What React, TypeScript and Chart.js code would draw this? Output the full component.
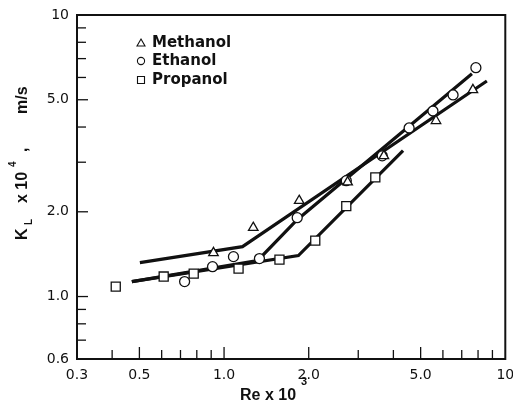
import React, { useEffect, useRef } from 'react';
import { Chart, registerables } from 'chart.js';

Chart.register(...registerables);

// Measured points (Re x 10^3, K_L x 10^4 m/s)
const methanolRe = [0.917, 1.27, 1.85, 2.75, 3.7, 5.67, 7.67];
const methanolKL = [1.43, 1.756, 2.19, 2.55, 3.16, 4.21, 5.42];
const ethanolRe = [0.724, 0.91, 1.08, 1.336, 1.82, 2.72, 3.65, 4.55, 5.53, 6.52, 7.86];
const ethanolKL = [1.13, 1.277, 1.386, 1.364, 1.906, 2.58, 3.16, 3.97, 4.56, 5.2, 6.5];
const propanolRe = [0.412, 0.61, 0.78, 1.126, 1.574, 2.11, 2.72, 3.45];
const propanolKL = [1.085, 1.178, 1.206, 1.257, 1.353, 1.58, 2.094, 2.65];

// Fitted (correlation) lines
const methanolFitRe = [0.502, 1.163, 8.6];
const methanolFitKL = [1.32, 1.504, 5.83];
const ethanolFitRe = [0.47, 1.315, 1.82, 7.61];
const ethanolFitKL = [1.13, 1.341, 1.875, 6.18];
const propanolFitRe = [0.47, 1.838, 4.33];
const propanolFitKL = [1.13, 1.398, 3.3];

// Axis ticks
const xMajorTicks = [0.3, 0.5, 1, 2, 5, 10];
const xTickLabels = ['0.3', '0.5', '1.0', '2.0', '5.0', '10'];
const xMinorTicks = [0.4, 0.6, 0.7, 0.8, 0.9, 3, 4, 6, 7, 8, 9];
const yMajorTicks = [0.6, 1, 2, 5, 10];
const yTickLabels = ['0.6', '1.0', '2.0', '5.0', '10'];
const yMinorTicks = [0.7, 0.8, 0.9, 3, 4, 6, 7, 8, 9];

const seriesNames = ['Methanol', 'Ethanol', 'Propanol'];

const INK = '#111';

const pts = (xs: number[], ys: number[]) => xs.map((x, i) => ({ x, y: ys[i] }));

const decorPlugin = {
  id: 'decor',
  afterDatasetsDraw(chart: any) {
    const ctx = chart.ctx as CanvasRenderingContext2D;
    const { left, right, top, bottom } = chart.chartArea;
    const xs = chart.scales.x;
    const ys = chart.scales.y;
    ctx.save();
    ctx.strokeStyle = INK;
    ctx.fillStyle = INK;
    // frame
    ctx.lineWidth = 2;
    ctx.strokeRect(left, top, right - left, bottom - top);
    // inward ticks
    ctx.lineWidth = 1.3;
    const xt = (v: number, len: number) => {
      const p = xs.getPixelForValue(v);
      ctx.beginPath();
      ctx.moveTo(p, bottom);
      ctx.lineTo(p, bottom - len);
      ctx.stroke();
    };
    const yt = (v: number, len: number) => {
      const p = ys.getPixelForValue(v);
      ctx.beginPath();
      ctx.moveTo(left, p);
      ctx.lineTo(left + len, p);
      ctx.stroke();
    };
    xMajorTicks.slice(1, -1).forEach((v) => xt(v, 12));
    xMinorTicks.forEach((v) => xt(v, 9));
    yMajorTicks.slice(1, -1).forEach((v) => yt(v, 11));
    yMinorTicks.forEach((v) => yt(v, 9));

    // x title
    ctx.textBaseline = 'alphabetic';
    ctx.textAlign = 'left';
    ctx.font = 'bold 16px "Liberation Sans"';
    ctx.fillText('Re x 10', 240, 400);
    ctx.font = 'bold 11px "Liberation Sans"';
    ctx.fillText('3', 301, 385);

    // y title (rotated)
    ctx.save();
    ctx.translate(27, 240);
    ctx.rotate(-Math.PI / 2);
    ctx.font = 'bold 16px "Liberation Sans"';
    ctx.fillText('K', 0, 0);
    ctx.font = 'bold 10px "Liberation Sans"';
    ctx.fillText('L', 15, 5);
    ctx.font = 'bold 16px "Liberation Sans"';
    ctx.fillText('x 10', 37, 0);
    ctx.font = 'bold 10px "Liberation Sans"';
    ctx.fillText('4', 73, -11);
    ctx.font = 'bold 16px "Liberation Sans"';
    ctx.fillText(',', 88, 0);
    ctx.fillText('m/s', 126, 0);
    ctx.restore();

    // legend
    const lx = 141;
    const rows = [43, 61, 80];
    ctx.lineWidth = 1.1;
    ctx.fillStyle = '#fff';
    // triangle
    ctx.beginPath();
    ctx.moveTo(lx, rows[0] - 4);
    ctx.lineTo(lx + 4, rows[0] + 3);
    ctx.lineTo(lx - 4, rows[0] + 3);
    ctx.closePath();
    ctx.fill();
    ctx.stroke();
    // circle
    ctx.beginPath();
    ctx.arc(lx, rows[1], 3.6, 0, Math.PI * 2);
    ctx.fill();
    ctx.stroke();
    // square
    ctx.beginPath();
    ctx.rect(lx - 3.5, rows[2] - 3.5, 7, 7);
    ctx.fill();
    ctx.stroke();
    ctx.fillStyle = INK;
    ctx.font = 'bold 15px "DejaVu Sans"';
    ctx.textBaseline = 'middle';
    seriesNames.forEach((n, i) => ctx.fillText(n, 152, rows[i] + 0.5));
    ctx.restore();
  },
};

export default function App() {
  const ref = useRef<HTMLCanvasElement | null>(null);
  useEffect(() => {
    if (!ref.current) return;
    const markerBase = {
      showLine: false,
      backgroundColor: '#fff',
      borderColor: INK,
      borderWidth: 1.3,
      order: 1,
    };
    const lineBase = {
      showLine: true,
      pointRadius: 0,
      borderColor: INK,
      borderWidth: 3.2,
      tension: 0,
      fill: false,
      order: 2,
    };
    const chart = new Chart(ref.current, {
      type: 'scatter',
      data: {
        datasets: [
          { ...lineBase, label: 'Methanol fit', data: pts(methanolFitRe, methanolFitKL) },
          { ...lineBase, label: 'Ethanol fit', data: pts(ethanolFitRe, ethanolFitKL) },
          { ...lineBase, label: 'Propanol fit', data: pts(propanolFitRe, propanolFitKL) },
          { ...markerBase, label: 'Methanol', pointStyle: 'triangle', pointRadius: 5.5, data: pts(methanolRe, methanolKL) },
          { ...markerBase, label: 'Ethanol', pointStyle: 'circle', pointRadius: 5, data: pts(ethanolRe, ethanolKL) },
          { ...markerBase, label: 'Propanol', pointStyle: 'rect', pointRadius: 6.4, data: pts(propanolRe, propanolKL) },
        ] as any,
      },
      options: {
        animation: false,
        responsive: false,
        events: [],
        layout: { padding: { top: 15, right: 6, left: 0, bottom: 0 } },
        plugins: { legend: { display: false }, tooltip: { enabled: false } },
        scales: {
          x: {
            type: 'logarithmic',
            min: 0.3,
            max: 10,
            afterBuildTicks: (s: any) => {
              s.ticks = xMajorTicks.map((v) => ({ value: v }));
            },
            afterFit: (s: any) => {
              s.height = 47;
              s.paddingLeft = 0;
              s.paddingRight = 0;
            },
            grid: { display: false, drawTicks: false },
            border: { display: false },
            ticks: {
              autoSkip: false,
              maxRotation: 0,
              padding: 8,
              color: INK,
              font: { family: 'DejaVu Sans', size: 14 },
              callback: (v: any) => {
                const i = xMajorTicks.findIndex((t) => Math.abs(t - Number(v)) < 1e-9);
                return i >= 0 ? xTickLabels[i] : '';
              },
            },
          },
          y: {
            type: 'logarithmic',
            min: 0.6,
            max: 10,
            afterBuildTicks: (s: any) => {
              s.ticks = yMajorTicks.map((v) => ({ value: v }));
            },
            afterFit: (s: any) => {
              s.width = 77;
              s.paddingTop = 0;
              s.paddingBottom = 0;
            },
            grid: { display: false, drawTicks: false },
            border: { display: false },
            ticks: {
              autoSkip: false,
              padding: 8,
              color: INK,
              font: { family: 'DejaVu Sans', size: 14 },
              callback: (v: any) => {
                const i = yMajorTicks.findIndex((t) => Math.abs(t - Number(v)) < 1e-9);
                return i >= 0 ? yTickLabels[i] : '';
              },
            },
          },
        },
      } as any,
      plugins: [decorPlugin],
    });
    return () => chart.destroy();
  }, []);
  return (
    <div style={{ position: 'absolute', left: 0, top: 0, width: 513, height: 406, background: '#fff' }}>
      <canvas ref={ref} width={513} height={406} style={{ display: 'block' }} />
    </div>
  );
}
